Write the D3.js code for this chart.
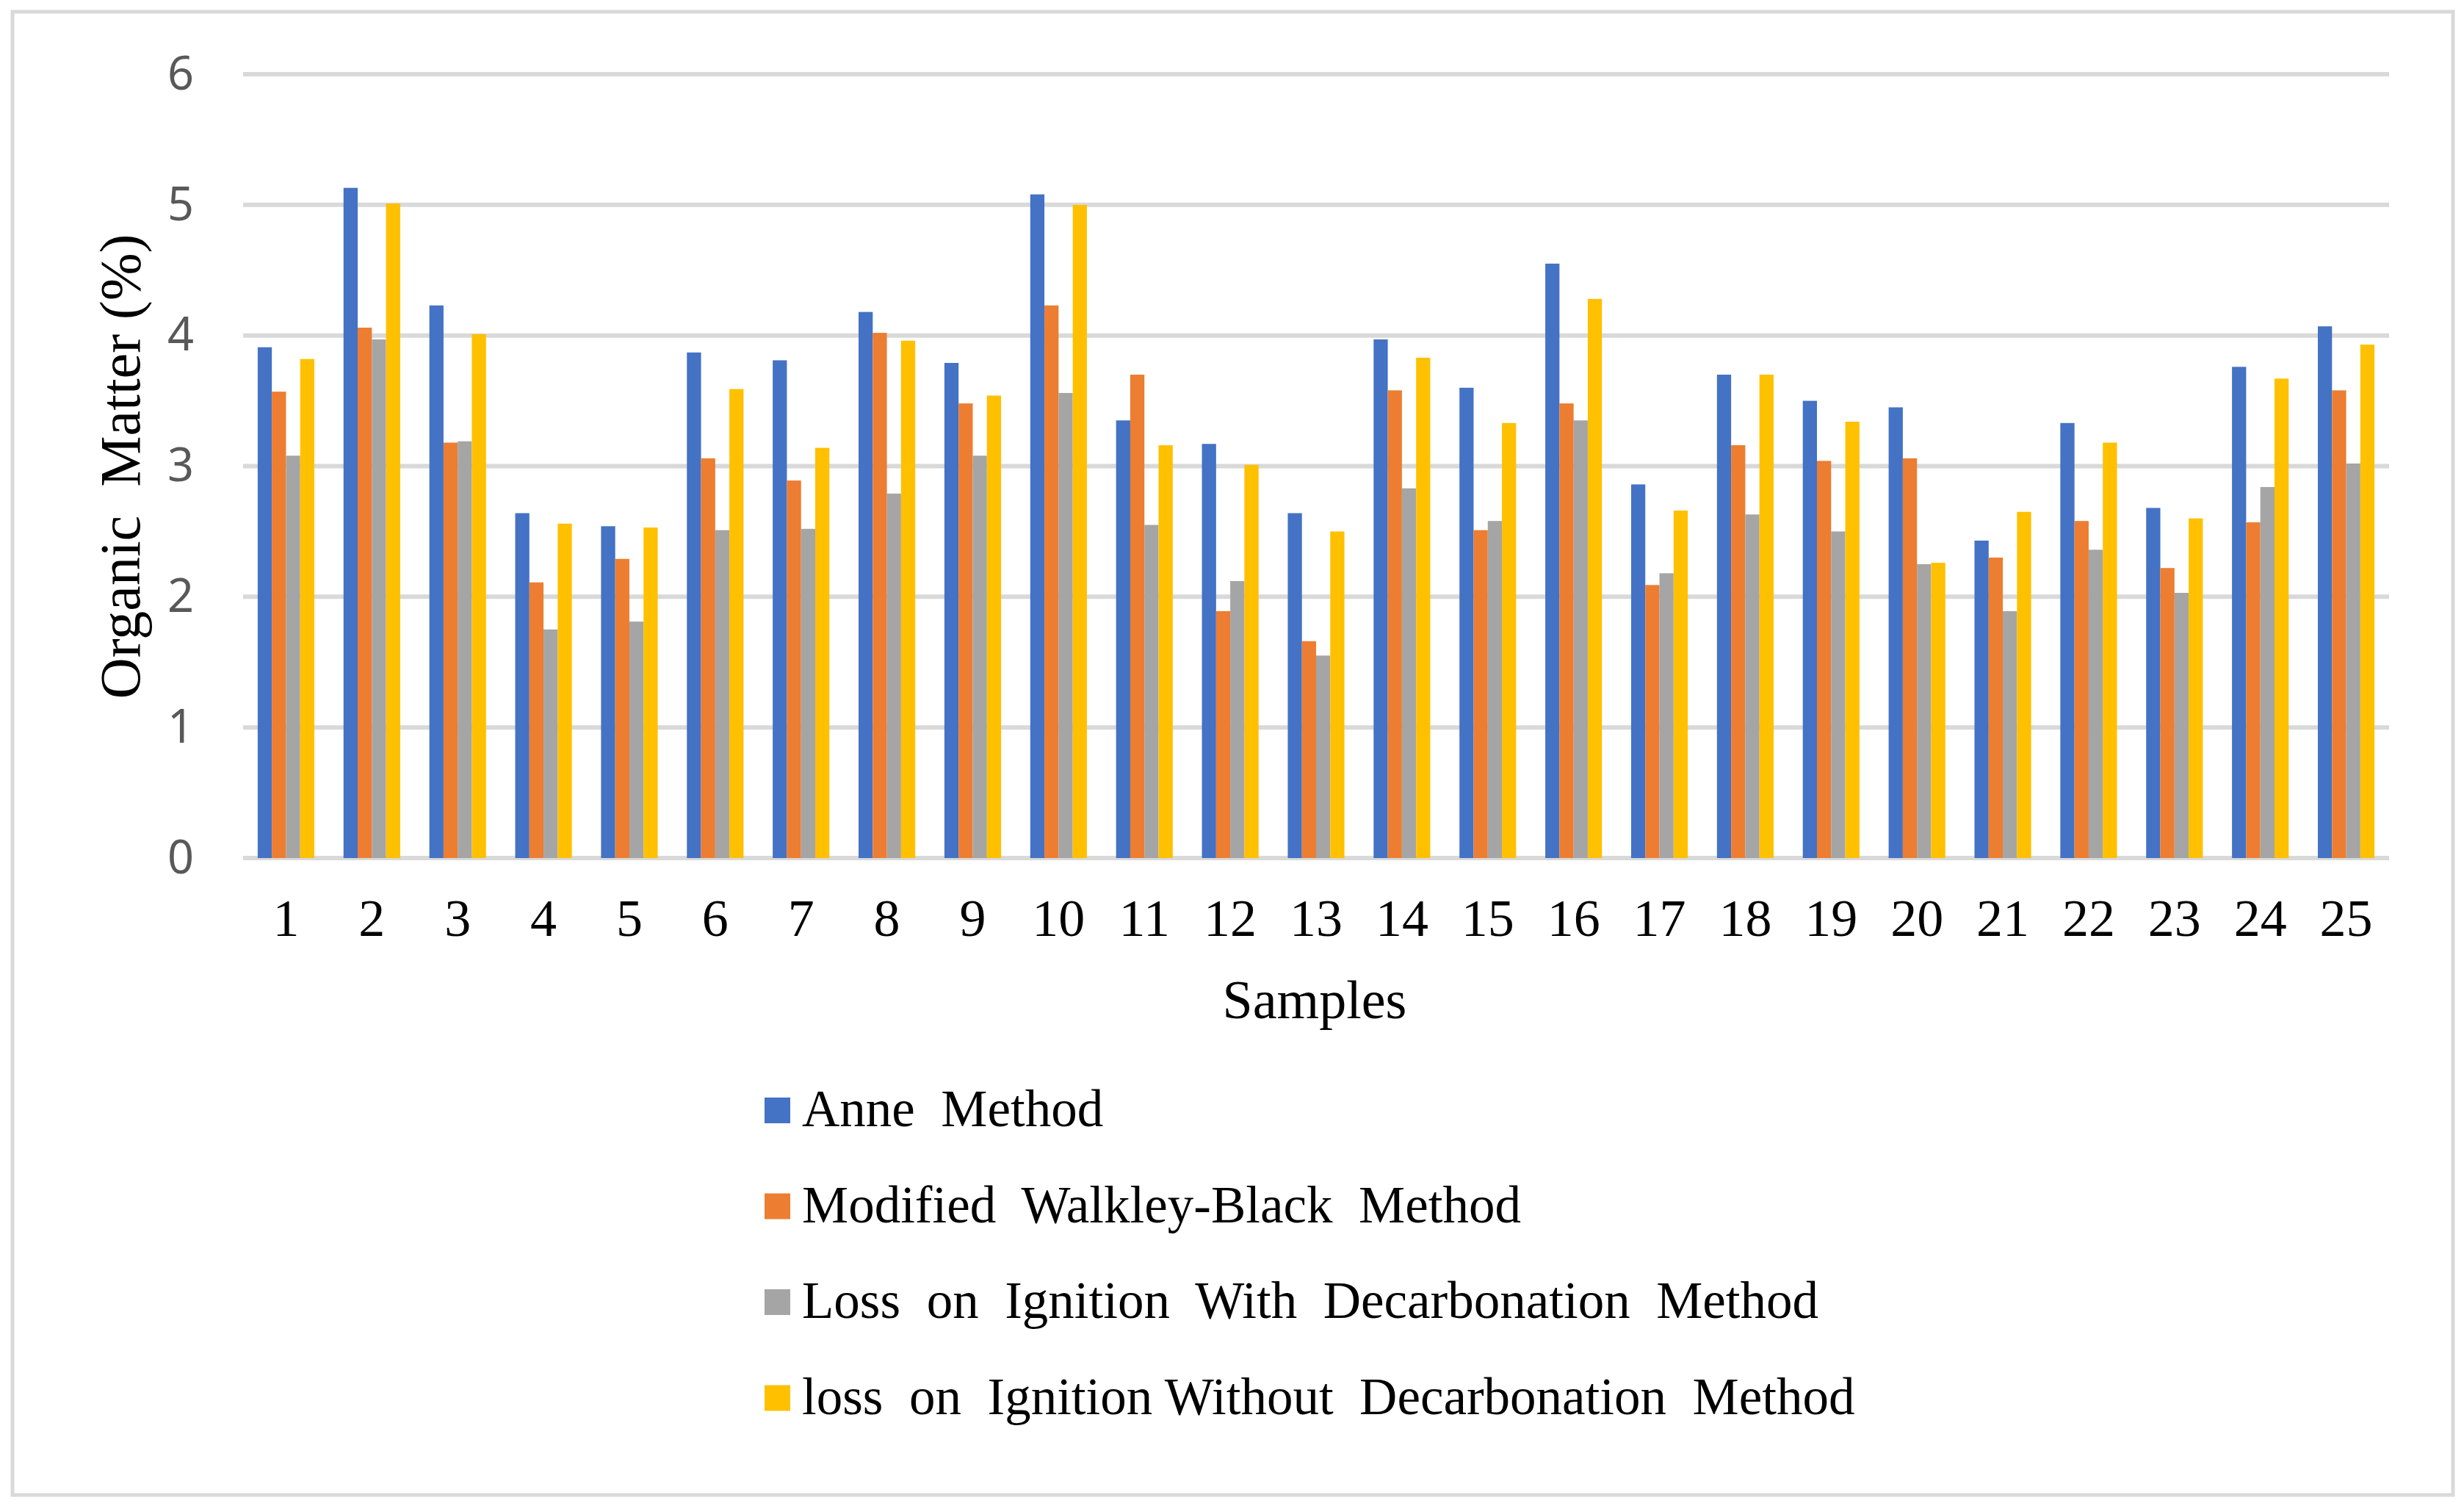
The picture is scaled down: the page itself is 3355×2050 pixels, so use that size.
<!DOCTYPE html>
<html>
<head>
<meta charset="utf-8">
<script src="https://cdn.jsdelivr.net/npm/d3@7.9.0/dist/d3.min.js"></script>
<style>
  body { margin: 0; background: #fff; }
  svg text { white-space: pre; }
</style>
</head>
<body>
<div id="chart"></div>
<script>
const samples = d3.range(1, 26).map(String);
const seriesNames = [
  "Anne  Method",
  "Modified  Walkley-Black  Method",
  "Loss  on  Ignition  With  Decarbonation  Method",
  "loss  on  Ignition Without  Decarbonation  Method"
];
const anne = [3.91, 5.13, 4.23, 2.64, 2.54, 3.87, 3.81, 4.18, 3.79, 5.08, 3.35, 3.17, 2.64, 3.97, 3.60, 4.55, 2.86, 3.70, 3.50, 3.45, 2.43, 3.33, 2.68, 3.76, 4.07];
const walkley = [3.57, 4.06, 3.18, 2.11, 2.29, 3.06, 2.89, 4.02, 3.48, 4.23, 3.70, 1.89, 1.66, 3.58, 2.51, 3.48, 2.09, 3.16, 3.04, 3.06, 2.30, 2.58, 2.22, 2.57, 3.58];
const loiWith = [3.08, 3.97, 3.19, 1.75, 1.81, 2.51, 2.52, 2.79, 3.08, 3.56, 2.55, 2.12, 1.55, 2.83, 2.58, 3.35, 2.18, 2.63, 2.50, 2.25, 1.89, 2.36, 2.03, 2.84, 3.02];
const loiWithout = [3.82, 5.01, 4.01, 2.56, 2.53, 3.59, 3.14, 3.96, 3.54, 5.00, 3.16, 3.01, 2.50, 3.83, 3.33, 4.28, 2.66, 3.70, 3.34, 2.26, 2.65, 3.18, 2.60, 3.67, 3.93];
const yTicks = [0, 1, 2, 3, 4, 5, 6];
const colors = ["#4472C4", "#ED7D31", "#A5A5A5", "#FFC000"];

const values = [anne, walkley, loiWith, loiWithout];
const W = 3355, H = 2050;
const plot = { left: 331, right: 3253, top: 101, bottom: 1168 };
const serif = "'Liberation Serif', 'Times New Roman', serif";

const svg = d3.select("#chart").append("svg")
  .attr("width", W).attr("height", H);

svg.append("rect")
  .attr("x", 17).attr("y", 16).attr("width", 3323).attr("height", 2019)
  .attr("fill", "#fff").attr("stroke", "#d9d9d9").attr("stroke-width", 5);

const x = d3.scaleBand().domain(samples).range([plot.left, plot.right])
  .paddingInner(0.34).paddingOuter(0.17);
const xs = d3.scaleBand().domain(d3.range(4)).range([0, x.bandwidth()]);
const y = d3.scaleLinear().domain([0, 6]).range([plot.bottom, plot.top]);

// gridlines
svg.append("g").selectAll("line").data(yTicks).join("line")
  .attr("x1", plot.left).attr("x2", plot.right)
  .attr("y1", d => y(d)).attr("y2", d => y(d))
  .attr("stroke", "#d9d9d9").attr("stroke-width", 6);

// bars
svg.append("g").selectAll("g").data(values).join("g")
  .attr("fill", (d, i) => colors[i])
  .each(function (vals, si) {
    d3.select(this).selectAll("rect").data(vals).join("rect")
      .attr("x", (d, i) => x(samples[i]) + xs(si))
      .attr("width", xs.bandwidth())
      .attr("y", d => y(d))
      .attr("height", d => y(0) - y(d));
  });

// y axis labels
const yAxis = svg.append("g")
  .attr("transform", `translate(${plot.left},0)`)
  .call(d3.axisLeft(y).tickValues(yTicks).tickFormat(d3.format("d"))
    .tickSize(0).tickPadding(67));
yAxis.select(".domain").remove();
yAxis.selectAll("text")
  .attr("font-family", "'Noto Sans', sans-serif")
  .attr("font-size", 63).attr("fill", "#595959");

// x axis labels
const xAxis = svg.append("g")
  .attr("transform", `translate(0,${plot.bottom})`)
  .call(d3.axisBottom(x).tickSize(0));
xAxis.select(".domain").remove();
xAxis.selectAll("text")
  .attr("y", 106).attr("dy", 0)
  .attr("font-family", serif).attr("font-size", 72).attr("fill", "#000");

// axis titles
svg.append("text")
  .attr("x", 1790).attr("y", 1386)
  .attr("text-anchor", "middle")
  .attr("font-family", serif).attr("font-size", 74)
  .text("Samples");

svg.append("text")
  .attr("transform", "translate(190,635) rotate(-90)")
  .attr("text-anchor", "middle")
  .attr("font-family", serif).attr("font-size", 78)
  .text("Organic  Matter (%)");

// legend
const legend = svg.append("g").selectAll("g").data(seriesNames).join("g")
  .attr("transform", (d, i) => `translate(1041,${1533 + i * 130.5})`);
legend.append("rect")
  .attr("x", 0).attr("y", -39).attr("width", 35).attr("height", 35)
  .attr("fill", (d, i) => colors[i]);
legend.append("text")
  .attr("x", 51).attr("y", 0)
  .attr("font-family", serif).attr("font-size", 71)
  .text(d => d);
</script>
</body>
</html>
